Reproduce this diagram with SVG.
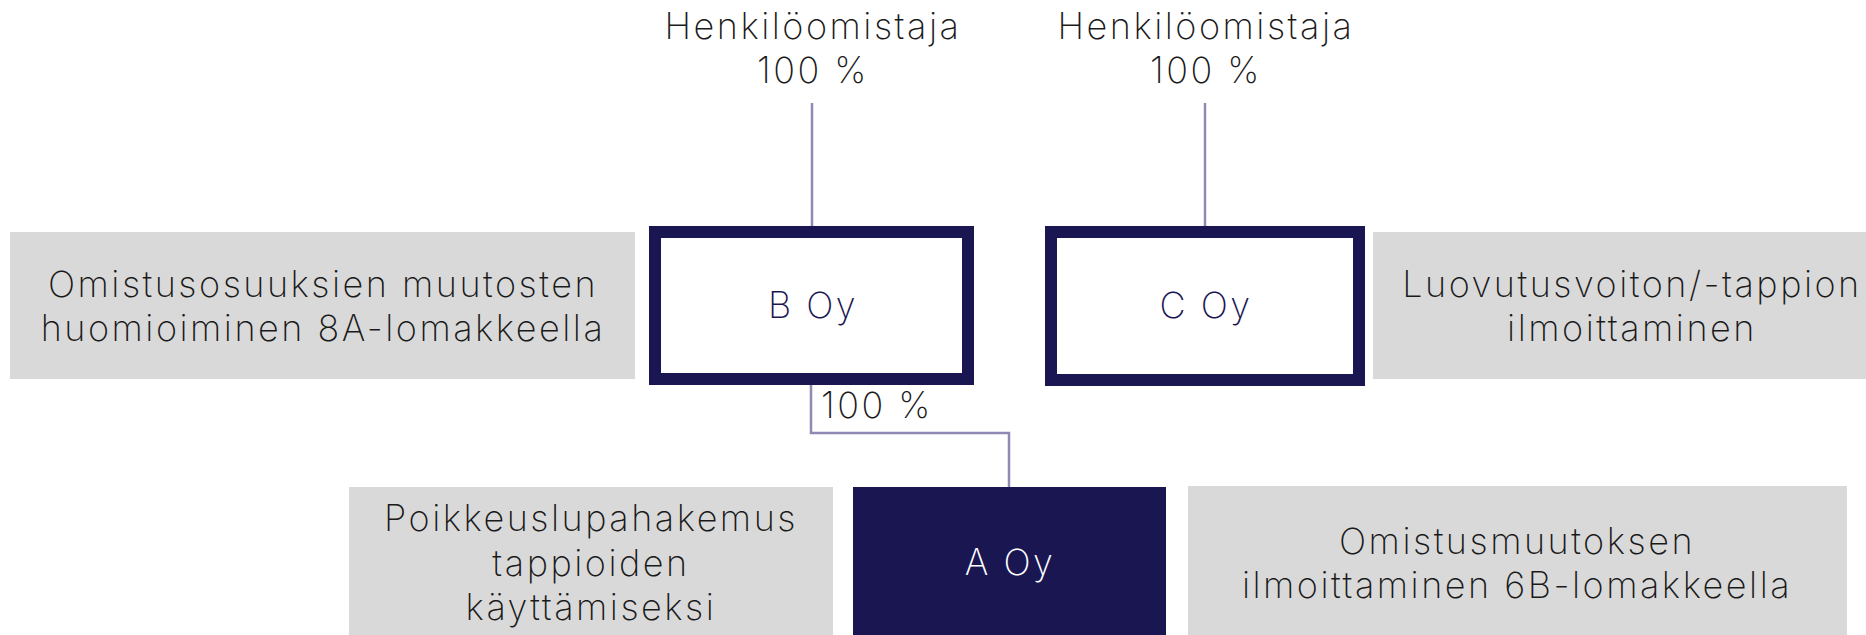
<svg xmlns="http://www.w3.org/2000/svg" width="1866" height="635" viewBox="0 0 1866 635">
  <style>
    .lbl { font-family: Inter, "Open Sans", "Liberation Sans", sans-serif; font-weight: 200; font-size: 36px; letter-spacing: 2.5px; fill: #1a1a1a; text-anchor: middle; }
    .navy-txt { fill: #1a1652; }
    .white-txt { fill: #ffffff; }
    .note { fill: #d9d9d9; }
    .co-frame { fill: #ffffff; stroke: #1a1652; stroke-width: 12; }
    .co-solid { fill: #1a1652; }
    .link { fill: none; stroke: #8f8ab5; stroke-width: 2.5; }
  </style>

  <rect width="1866" height="635" fill="#ffffff"/>

  <!-- ownership links -->
  <g id="connectors">
    <line class="link" x1="812" y1="103" x2="812" y2="226"/>
    <line class="link" x1="1205" y1="103" x2="1205" y2="226"/>
    <path class="link" d="M811 385 V433 H1009 V487"/>
  </g>

  <!-- individual owners -->
  <g id="owner-b">
    <text class="lbl" x="813" y="39">Henkilöomistaja</text>
    <text class="lbl" x="813" y="83">100 %</text>
  </g>
  <g id="owner-c">
    <text class="lbl" x="1206" y="39">Henkilöomistaja</text>
    <text class="lbl" x="1206" y="83">100 %</text>
  </g>

  <!-- companies -->
  <g id="b-oy">
    <rect class="co-frame" x="655" y="232" width="313" height="147"/>
    <text class="lbl navy-txt" x="813" y="318">B Oy</text>
  </g>
  <g id="c-oy">
    <rect class="co-frame" x="1051" y="232" width="308" height="148"/>
    <text class="lbl navy-txt" x="1206" y="318">C Oy</text>
  </g>
  <g id="b-share">
    <text class="lbl" x="821" y="418" style="text-anchor:start">100 %</text>
  </g>
  <g id="a-oy">
    <rect class="co-solid" x="853" y="487" width="313" height="148"/>
    <text class="lbl white-txt" x="1010" y="575">A Oy</text>
  </g>

  <!-- notes -->
  <g id="note-8a">
    <rect class="note" x="10" y="232" width="625" height="147"/>
    <text class="lbl" x="323" y="297">Omistusosuuksien muutosten</text>
    <text class="lbl" x="323" y="341">huomioiminen 8A-lomakkeella</text>
  </g>
  <g id="note-luovutus">
    <rect class="note" x="1373" y="232" width="493" height="147"/>
    <text class="lbl" x="1632" y="297">Luovutusvoiton/-tappion</text>
    <text class="lbl" x="1632" y="341">ilmoittaminen</text>
  </g>
  <g id="note-poikkeuslupa">
    <rect class="note" x="349" y="487" width="484" height="148"/>
    <text class="lbl" x="591" y="531">Poikkeuslupahakemus</text>
    <text class="lbl" x="591" y="576">tappioiden</text>
    <text class="lbl" x="591" y="620">käyttämiseksi</text>
  </g>
  <g id="note-6b">
    <rect class="note" x="1188" y="486" width="659" height="149"/>
    <text class="lbl" x="1517" y="554">Omistusmuutoksen</text>
    <text class="lbl" x="1517" y="598">ilmoittaminen 6B-lomakkeella</text>
  </g>
</svg>
